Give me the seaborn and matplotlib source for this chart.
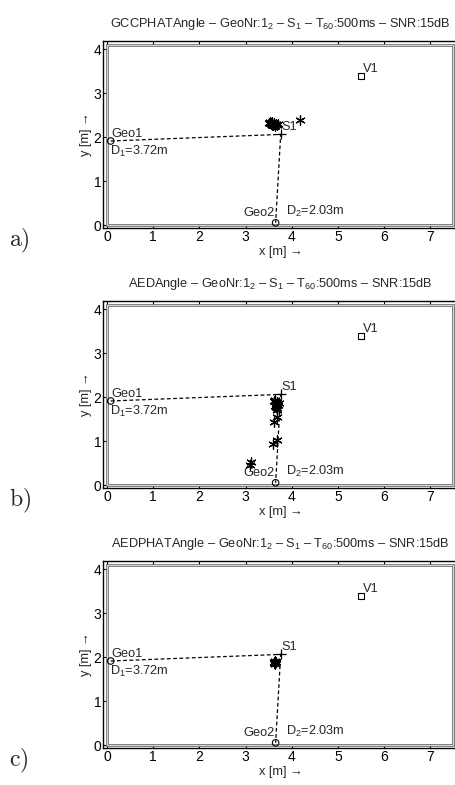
import numpy as np
import pandas as pd
import matplotlib
matplotlib.use("Agg")
import matplotlib.pyplot as plt
from matplotlib.patches import Rectangle
import seaborn as sns

sns.set_style("ticks")
plt.rcParams['font.family'] = ['Liberation Sans', 'DejaVu Sans']
plt.rcParams['mathtext.fontset'] = 'custom'
plt.rcParams['mathtext.rm'] = 'Liberation Sans'
plt.rcParams['mathtext.it'] = 'Liberation Sans'

# room and fixed positions [m]
room_w, room_h = 7.48, 4.09
geo1 = (0.08, 1.91)
geo2 = (3.65, 0.05)
src = (3.76, 2.06)
v1 = (5.50, 3.39)

methods = ["GCCPHATAngle", "AEDAngle", "AEDPHATAngle"]
panel_tags = ["a)", "b)", "c)"]

# estimated source positions per method
est_x_a = [3.50, 3.53, 3.55, 3.57, 3.58, 3.60, 3.62, 3.63, 3.65, 3.58,
           3.54, 3.61, 3.67, 3.70, 3.52, 4.17]
est_y_a = [2.33, 2.35, 2.31, 2.30, 2.34, 2.28, 2.30, 2.26, 2.29, 2.27,
           2.29, 2.33, 2.28, 2.30, 2.31, 2.39]
est_x_b = [3.62, 3.65, 3.68, 3.70, 3.66, 3.72, 3.64, 3.69, 3.63, 3.67,
           3.68, 3.62, 3.69, 3.60, 3.11, 3.09]
est_y_b = [1.90, 1.85, 1.88, 1.82, 1.78, 1.86, 1.93, 1.76, 1.80, 1.71,
           1.55, 1.44, 1.02, 0.94, 0.53, 0.45]
est_x_c = [3.62, 3.64, 3.63, 3.65, 3.61, 3.63]
est_y_c = [1.88, 1.87, 1.90, 1.89, 1.86, 1.85]

estimates = [(est_x_a, est_y_a), (est_x_b, est_y_b), (est_x_c, est_y_c)]

fig = plt.figure(figsize=(4.56, 7.85), dpi=100)
W, H = 456.0, 785.0
ax_left, ax_w, ax_h = 103.3 / W, 354.8 / W, 187.6 / H
bottoms_px = [228.3, 488.3, 748.3]

asterisk = (6, 2, 0)

for i, name in enumerate(methods):
    ax = fig.add_axes([ax_left, (H - bottoms_px[i]) / H, ax_w, ax_h])
    ax.set_xlim(-0.08, 7.6)
    ax.set_ylim(-0.075, 4.19)

    # room walls drawn as a grey double line
    ax.add_patch(Rectangle((0, 0), room_w, room_h, fill=False,
                           edgecolor='0.45', lw=2.0, zorder=1))
    ax.add_patch(Rectangle((0, 0), room_w, room_h, fill=False,
                           edgecolor='0.85', lw=0.7, zorder=1))

    # dashed connections from arrays to the source
    lines = pd.DataFrame({"x": [geo1[0], src[0], geo2[0]],
                          "y": [geo1[1], src[1], geo2[1]]})
    ax.plot(lines["x"], lines["y"], color='k', ls=(0, (3, 2)), lw=0.9,
            zorder=2)

    ex, ey = estimates[i]
    sns.scatterplot(x=ex, y=ey, ax=ax, marker=asterisk, s=45, color='k',
                    linewidth=0.9, zorder=4)

    sns.scatterplot(x=[geo1[0], geo2[0]], y=[geo1[1], geo2[1]], ax=ax,
                    marker='o', s=22, facecolor='none', edgecolor='k',
                    linewidth=0.8, zorder=3)
    sns.scatterplot(x=[v1[0]], y=[v1[1]], ax=ax, marker='s', s=20,
                    facecolor='none', edgecolor='k', linewidth=0.8, zorder=3)
    sns.scatterplot(x=[src[0]], y=[src[1]], ax=ax, marker='+', s=45,
                    color='k', linewidth=0.9, zorder=3)

    fs = 9.2
    ax.text(0.10, 1.93, "Geo1", fontsize=fs, ha='left', va='bottom')
    ax.text(0.07, 1.84, "D$_1$=3.72m", fontsize=fs, ha='left', va='top')
    ax.text(3.63, 0.14, "Geo2", fontsize=fs, ha='right', va='bottom')
    ax.text(3.88, 0.14, "D$_2$=2.03m", fontsize=fs, ha='left', va='bottom')
    ax.text(3.78, 2.10, "S1", fontsize=fs, ha='left', va='bottom')
    ax.text(5.53, 3.41, "V1", fontsize=fs, ha='left', va='bottom')

    ax.set_title(name + " – GeoNr:1$_2$ – S$_1$ – T$_{60}$:500ms – SNR:15dB",
                 fontsize=9.2, pad=10)
    ax.set_xlabel("x [m] →", fontsize=9.2, labelpad=1)
    ax.set_ylabel("y [m] →", fontsize=9.2, labelpad=1)
    ax.set_xticks(range(0, 8))
    ax.set_yticks(range(0, 5))
    ax.tick_params(direction='in', top=True, right=True, length=3,
                   width=0.8, labelsize=10, pad=1.5, colors='k')
    for sp in ax.spines.values():
        sp.set_visible(True)
        sp.set_color('k')
        sp.set_linewidth(1.0)

    fig.text(9 / W, 1 - (bottoms_px[i] + 13) / H, r"$\mathrm{" + panel_tags[i] + "}$",
             fontsize=17, ha='left', va='center',
             math_fontfamily='cm')

fig.savefig("out.png", dpi=100)
